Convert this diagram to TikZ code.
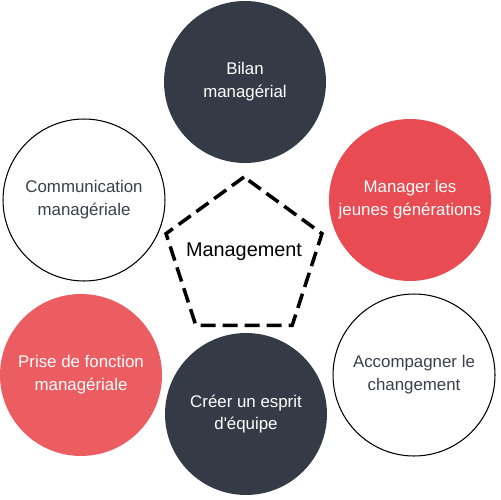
\documentclass[tikz,border=0pt]{standalone}
\usepackage{fontspec}
\setmainfont{Liberation Sans}
\usepackage{tikz}
\usetikzlibrary{shapes.geometric}
\definecolor{mgmtdark}{HTML}{343A46}
\definecolor{mgmtred}{HTML}{E84B51}
\definecolor{mgmtredlight}{HTML}{EC5D62}
\definecolor{mgmtgrey}{HTML}{3A3F4A}

\begin{document}
\begin{tikzpicture}[x=0.02cm, y=-0.02cm,
    topic/.style={circle, minimum size=3.24cm, inner sep=0pt, align=center,
      font=\fontsize{9.6}{13}\selectfont},
    darktopic/.style={topic, fill=mgmtdark, text=white},
    redtopic/.style={topic, fill=mgmtred, text=white},
    whitetopic/.style={topic, draw=black, line width=0.6pt, fill=white, text=mgmtgrey}]
  \useasboundingbox (0,0) rectangle (500,500);
  % outer ring of topics
  \node[darktopic] (bilan) at (245,82) {Bilan\\managérial};
  \node[redtopic] (jeunes) at (410,200) {Manager les\\jeunes générations};
  \node[whitetopic] (changement) at (414,375) {Accompagner le\\changement};
  \node[darktopic] (equipe) at (246,414) {Créer un esprit\\d\textquotesingle équipe};
  \node[redtopic, fill=mgmtredlight] (prise) at (81,375) {Prise de fonction\\managériale};
  \node[whitetopic] (communication) at (84,200) {Communication\\managériale};
  % centre
  \node[regular polygon, regular polygon sides=5, minimum size=3.28cm, inner sep=0pt,
    draw=black, line width=2pt, dash pattern=on 8.5pt off 4pt] (centre) at (244,259) {};
  \node[font=\fontsize{11.3}{13}\selectfont, text=black] (management) at (244,252) {Management};
\end{tikzpicture}
\end{document}
